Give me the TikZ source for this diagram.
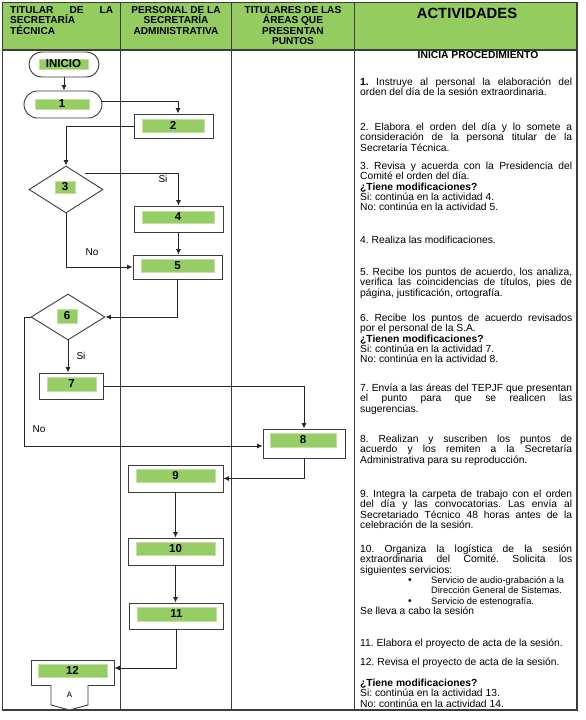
\documentclass[tikz,border=0pt]{standalone}
\usepackage{fontspec}
\setmainfont{Liberation Sans}
\usetikzlibrary{arrows.meta,shapes.geometric,calc}
\definecolor{hdrgreen}{RGB}{148,204,96}
\definecolor{boxgreen}{RGB}{150,205,100}
\definecolor{linegray}{RGB}{60,60,60}
\newcommand{\jln}[1]{\makebox[212pt][s]{#1}\par}
\newcommand{\lln}[1]{\makebox[212pt][l]{#1}\par}
\newcommand{\bodyfont}{\fontsize{10.3}{10.3}\selectfont}
\newcommand{\bulfont}{\fontsize{9.3}{10.3}\selectfont}
\newcommand{\hdrfont}{\fontsize{10.1}{10.4}\selectfont\bfseries}
\frenchspacing
\begin{document}
\frenchspacing
\begin{tikzpicture}[x=1pt,y=-1pt,
  tbl/.style={draw=linegray, line width=1.4pt},
  procbox/.style={draw=linegray, line width=0.9pt, fill=white, rectangle, inner sep=0pt},
  startbox/.style={draw=linegray, line width=0.9pt, fill=white, rectangle, inner sep=0pt},
  decbox/.style={draw=linegray, line width=0.9pt, fill=white, diamond, inner sep=0pt},
  gtag/.style={fill=boxgreen, draw=boxgreen!60!white, line width=0.5pt, inner sep=0pt, font=\fontsize{11.5}{11.5}\selectfont\bfseries},
  arr/.style={draw=black!85, line width=0.8pt, -{Latex[length=5.5pt,width=5pt]}},
  lbl/.style={font=\fontsize{10}{10}\selectfont, inner sep=0pt},
  txt/.style={anchor=base west, inner sep=0pt, font=\bodyfont},
  hdr/.style={inner sep=0pt, font=\hdrfont}
]
\useasboundingbox (0,0) rectangle (586,720);

% table
\fill[hdrgreen] (2.5,2.5) rectangle (577,50);
\draw[tbl] (2.5,2.5) rectangle (577,710);
\draw[tbl] (2.5,50) -- (577,50);
\draw[tbl] (120.5,2.5) -- (120.5,710);
\draw[tbl] (231.5,2.5) -- (231.5,710);
\draw[tbl] (354.5,2.5) -- (354.5,710);

% header
\node[hdr, anchor=base west] (h1) at (10,13.5) {\parbox[t]{103pt}{\makebox[103pt][s]{TITULAR DE LA}\\SECRETARÍA\\TÉCNICA}};
\node[hdr, anchor=base] (h2) at (176,13.5) {\parbox[t]{110pt}{\centering PERSONAL DE LA\\SECRETARÍA\\ADMINISTRATIVA}};
\node[hdr, anchor=base] (h3) at (293,13.5) {\parbox[t]{120pt}{\centering TITULARES DE LAS\\ÁREAS QUE\\PRESENTAN\\PUNTOS}};
\node[hdr, anchor=base, font=\fontsize{14.8}{14.8}\selectfont\bfseries] (h4) at (467,18) {ACTIVIDADES};

% flow nodes
\node[startbox, rounded corners=12.5pt, minimum width=70pt, minimum height=25pt] (ini) at (64,64.5) {};
\node[gtag, minimum width=49pt, minimum height=10pt] (ini-t) at (63.5,64) {INICIO};
\node[startbox, rounded corners=13.5pt, minimum width=78pt, minimum height=27pt] (n1) at (63,104.5) {};
\node[gtag, minimum width=54pt, minimum height=10pt] (n1-t) at (62,104) {1};
\node[procbox, minimum width=79pt, minimum height=24pt] (n2) at (173.5,126) {};
\node[gtag, minimum width=62pt, minimum height=13pt] (n2-t) at (173,125.5) {2};
\node[decbox, minimum width=74pt, minimum height=47pt] (d3) at (66,189.5) {};
\node[gtag, minimum width=20pt, minimum height=12pt] (d3-t) at (65,187) {3};
\node[procbox, minimum width=89pt, minimum height=26pt] (n4) at (178.5,219) {};
\node[gtag, minimum width=72pt, minimum height=12pt] (n4-t) at (178,217) {4};
\node[procbox, minimum width=89pt, minimum height=24pt] (n5) at (177.5,267) {};
\node[gtag, minimum width=73pt, minimum height=13pt] (n5-t) at (177.5,265.5) {5};
\node[decbox, minimum width=74pt, minimum height=46pt] (d6) at (68,317) {};
\node[gtag, minimum width=20pt, minimum height=14pt] (d6-t) at (67,316) {6};
\node[procbox, minimum width=64pt, minimum height=26pt] (n7) at (71,386) {};
\node[gtag, minimum width=49pt, minimum height=14pt] (n7-t) at (71.5,384) {7};
\node[procbox, minimum width=82pt, minimum height=29pt] (n8) at (304,443.5) {};
\node[gtag, minimum width=66pt, minimum height=14pt] (n8-t) at (303,440) {8};
\node[procbox, minimum width=95pt, minimum height=27pt] (n9) at (175.5,478.5) {};
\node[gtag, minimum width=79pt, minimum height=13pt] (n9-t) at (175.5,475.5) {9};
\node[procbox, minimum width=95pt, minimum height=27pt] (n10) at (175.5,551.5) {};
\node[gtag, minimum width=79pt, minimum height=13pt] (n10-t) at (175.5,548.5) {10};
\node[procbox, minimum width=94pt, minimum height=26pt] (n11) at (176,616) {};
\node[gtag, minimum width=79pt, minimum height=14pt] (n11-t) at (176.5,614) {11};
\node[procbox, minimum width=83pt, minimum height=25pt] (n12) at (72.5,672.5) {};
\node[gtag, minimum width=69pt, minimum height=13pt] (n12-t) at (72.5,670.5) {12};

% off-page connector
\draw[draw=linegray, line width=0.9pt, fill=white] (51,685) -- (51,705) -- (69.5,710) -- (88,705) -- (88,685);
\node[inner sep=0pt, font=\fontsize{8}{8}\selectfont\bfseries, text=black!75] (conA) at (69.5,695) {A};

% connectors
\draw[arr] (ini.south) -- (ini.south |- n1.north);
\draw[arr] ([yshift=3pt]n1.east) -| ([xshift=4.5pt]n2.north);
\draw[arr] (n2.west) -| (d3.north);
\draw[arr] ([yshift=4.5pt]d3.north east) -| (n4.north);
\node[lbl] (si1) at (163,178.5) {Si};
\draw[arr] (n4.south) -- (n4.south |- n5.north);
\draw[arr] (d3.south) |- (n5.west);
\node[lbl] (no1) at (92,252) {No};
\draw[arr] (n5.south) |- (d6.east);
\draw[arr] (d6.south) -- (d6.south |- n7.north);
\node[lbl] (si2) at (81,356) {Si};
\draw[arr] (n7.east) -| (n8.north);
\draw[arr] (d6.west) -- ++(-6,0) |- ([yshift=-2.5pt]n8.west);
\node[lbl] (no2) at (39,429) {No};
\draw[arr] (n8.south) |- (n9.east);
\draw[arr] (n9.south) -- (n10.north);
\draw[arr] (n10.south) -- (n10.south |- n11.north);
\draw[arr] (n11.south) |- ([yshift=4.5pt]n12.east);

% activity texts
\node[inner sep=0pt, anchor=base, font=\bodyfont\bfseries] (a0) at (478,58.5) {INICIA PROCEDIMIENTO};
\node[txt] (a1) at (360,85.5) {\parbox[t]{212pt}{%
\jln{\textbf{1.} Instruye al personal la elaboración del}
\lln{orden del día de la sesión extraordinaria.}}};
\node[txt] (a2) at (360,130.5) {\parbox[t]{212pt}{%
\jln{2. Elabora el orden del día y lo somete a}
\jln{consideración de la persona titular de la}
\lln{Secretaría Técnica.}}};
\node[txt] (a3) at (360,169.5) {\parbox[t]{212pt}{%
\jln{3. Revisa y acuerda con la Presidencia del}
\lln{Comité el orden del día.}
\lln{\textbf{¿Tiene modificaciones?}}
\lln{Si: continúa en la actividad 4.}
\lln{No: continúa en la actividad 5.}}};
\node[txt] (a4) at (360,243.5) {\parbox[t]{212pt}{%
\lln{4. Realiza las modificaciones.}}};
\node[txt] (a5) at (360,275.5) {\parbox[t]{212pt}{%
\jln{5. Recibe los puntos de acuerdo, los analiza,}
\jln{verifica las coincidencias de títulos, pies de}
\lln{página, justificación, ortografía.}}};
\node[txt] (a6) at (360,321.5) {\parbox[t]{212pt}{%
\jln{6. Recibe los puntos de acuerdo revisados}
\lln{por el personal de la S.A.}
\lln{\textbf{¿Tienen modificaciones?}}
\lln{Si: continúa en la actividad 7.}
\lln{No: continúa en la actividad 8.}}};
\node[txt] (a7) at (360,391.5) {\parbox[t]{212pt}{%
\jln{7. Envía a las áreas del TEPJF que presentan}
\jln{el punto para que se realicen las}
\lln{sugerencias.}}};
\node[txt] (a8) at (360,442.5) {\parbox[t]{212pt}{%
\jln{8. Realizan y suscriben los puntos de}
\jln{acuerdo y los remiten a la Secretaría}
\lln{Administrativa para su reproducción.}}};
\node[txt] (a9) at (360,497.5) {\parbox[t]{212pt}{%
\jln{9. Integra la carpeta de trabajo con el orden}
\jln{del día y las convocatorias. Las envía al}
\jln{Secretariado Técnico 48 horas antes de la}
\lln{celebración de la sesión.}}};
\node[txt] (a10) at (360,552.5) {\parbox[t]{212pt}{%
\jln{10. Organiza la logística de la sesión}
\jln{extraordinaria del Comité. Solicita los}
\lln{siguientes servicios:}
\lln{\hspace*{48pt}\makebox[23pt][l]{•}{\bulfont Servicio de audio-grabación a la}}
\lln{\hspace*{71pt}{\bulfont Dirección General de Sistemas.}}
\lln{\hspace*{48pt}\makebox[23pt][l]{•}{\bulfont Servicio de estenografía.}}
\lln{Se lleva a cabo la sesión}}};
\node[txt] (a11) at (360,646.5) {\parbox[t]{212pt}{%
\lln{11. Elabora el proyecto de acta de la sesión.}}};
\node[txt] (a12) at (360,665.5) {\parbox[t]{212pt}{%
\lln{12. Revisa el proyecto de acta de la sesión.}}};
\node[txt] (aq) at (360,686.5) {\parbox[t]{212pt}{%
\lln{\textbf{¿Tiene modificaciones?}}
\lln{Si: continúa en la actividad 13.}
\lln{No: continúa en la actividad 14.}}};
\end{tikzpicture}
\end{document}
